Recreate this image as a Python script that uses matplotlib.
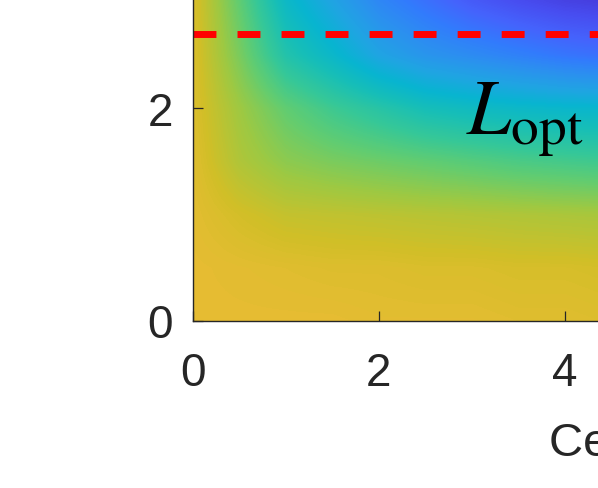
import numpy as np
import matplotlib
matplotlib.use('Agg')
import matplotlib.pyplot as plt
from matplotlib.colors import LinearSegmentedColormap

# grid the map was read on (colormap fraction, 0 = dark blue, 1 = yellow)
x_grid = [0, 0.5, 1, 1.5, 2, 2.5, 3, 3.5, 4, 4.5, 5]
y_grid = [0, 0.5, 1, 1.5, 2, 2.5, 3, 3.5]
z_rows = [
    [0.795, 0.795, 0.795, 0.795, 0.79, 0.79, 0.79, 0.785, 0.785, 0.78, 0.78],
    [0.795, 0.79, 0.785, 0.78, 0.78, 0.775, 0.775, 0.77, 0.77, 0.765, 0.765],
    [0.79, 0.765, 0.745, 0.74, 0.735, 0.73, 0.725, 0.72, 0.715, 0.71, 0.71],
    [0.785, 0.72, 0.68, 0.66, 0.645, 0.63, 0.615, 0.60, 0.59, 0.58, 0.575],
    [0.78, 0.70, 0.63, 0.58, 0.54, 0.50, 0.48, 0.465, 0.455, 0.45, 0.445],
    [0.78, 0.66, 0.53, 0.46, 0.38, 0.33, 0.30, 0.27, 0.24, 0.22, 0.21],
    [0.78, 0.63, 0.47, 0.38, 0.29, 0.23, 0.17, 0.13, 0.10, 0.085, 0.07],
    [0.77, 0.60, 0.42, 0.32, 0.24, 0.17, 0.12, 0.08, 0.06, 0.05, 0.04],
]
l_opt = 2.69
x_ticks = [0, 2, 4]
y_ticks = [0, 2]

# parula-like colormap
parula_pts = [
    (0.2422, 0.1504, 0.6603), (0.2706, 0.2147, 0.8364), (0.2813, 0.3006, 0.9414),
    (0.2699, 0.3892, 0.9906), (0.1963, 0.4847, 0.9892), (0.1687, 0.5703, 0.9359),
    (0.1248, 0.6459, 0.8883), (0.0297, 0.7082, 0.8163), (0.0964, 0.7500, 0.7120),
    (0.2161, 0.7843, 0.5923), (0.3909, 0.8029, 0.4354), (0.6174, 0.7876, 0.2612),
    (0.8203, 0.7498, 0.1535), (0.9728, 0.7298, 0.2394), (0.9892, 0.8136, 0.1885),
    (0.9597, 0.9135, 0.1423), (0.9769, 0.9839, 0.0805),
]
parula_pos = [i * 4 / 63 for i in range(16)] + [1.0]
parula = LinearSegmentedColormap.from_list('parula', list(zip(parula_pos, parula_pts)))

plt.rcParams['font.family'] = ['Liberation Sans', 'DejaVu Sans']
plt.rcParams['mathtext.fontset'] = 'stix'
plt.rcParams['lines.scale_dashes'] = False

fig = plt.figure(figsize=(5.98, 4.89), dpi=100)
# axes runs past the top and right edge (the reference is a crop)
ax = fig.add_axes([192.5 / 598, (489 - 321.5) / 489, 5 * 93.1 / 598, 3.5 * 106.4 / 489])

Z = np.array(z_rows)
dx = x_grid[1] - x_grid[0]
dy = y_grid[1] - y_grid[0]
ax.imshow(Z, origin='lower', cmap=parula, vmin=0, vmax=1, aspect='auto',
          interpolation='bilinear', interpolation_stage='data',
          extent=(x_grid[0] - dx / 2, x_grid[-1] + dx / 2, y_grid[0] - dy / 2, y_grid[-1] + dy / 2))

# dash 23 px, gap 21 px like the reference
ax.axhline(l_opt, color=(1, 0, 0), lw=5.0, ls=(0, (16.5, 15.2)))
ax.text(2.94, 1.76, r'$L_{\rm opt}$', fontsize=57, ha='left', va='baseline', color='k')

ax.set_xlim(0, 5)
ax.set_ylim(0, 3.5)
ax.set_xticks(x_ticks)
ax.set_yticks(y_ticks)
ax.tick_params(direction='in', length=7, width=0.9, color='0.15', labelcolor='0.15', labelsize=33)
ax.tick_params(axis='x', pad=22)
ax.tick_params(axis='y', pad=14)
for s in ax.spines.values():
    s.set_color('0.15')
    s.set_linewidth(1.0)

ax.set_xlabel('Center distance', fontsize=34, color='0.15', ha='left', va='baseline')
ax.xaxis.set_label_coords((549 - 192.5) / (5 * 93.1), (321.5 - 455.5) / (3.5 * 106.4))

fig.savefig('out.png', dpi=100)
